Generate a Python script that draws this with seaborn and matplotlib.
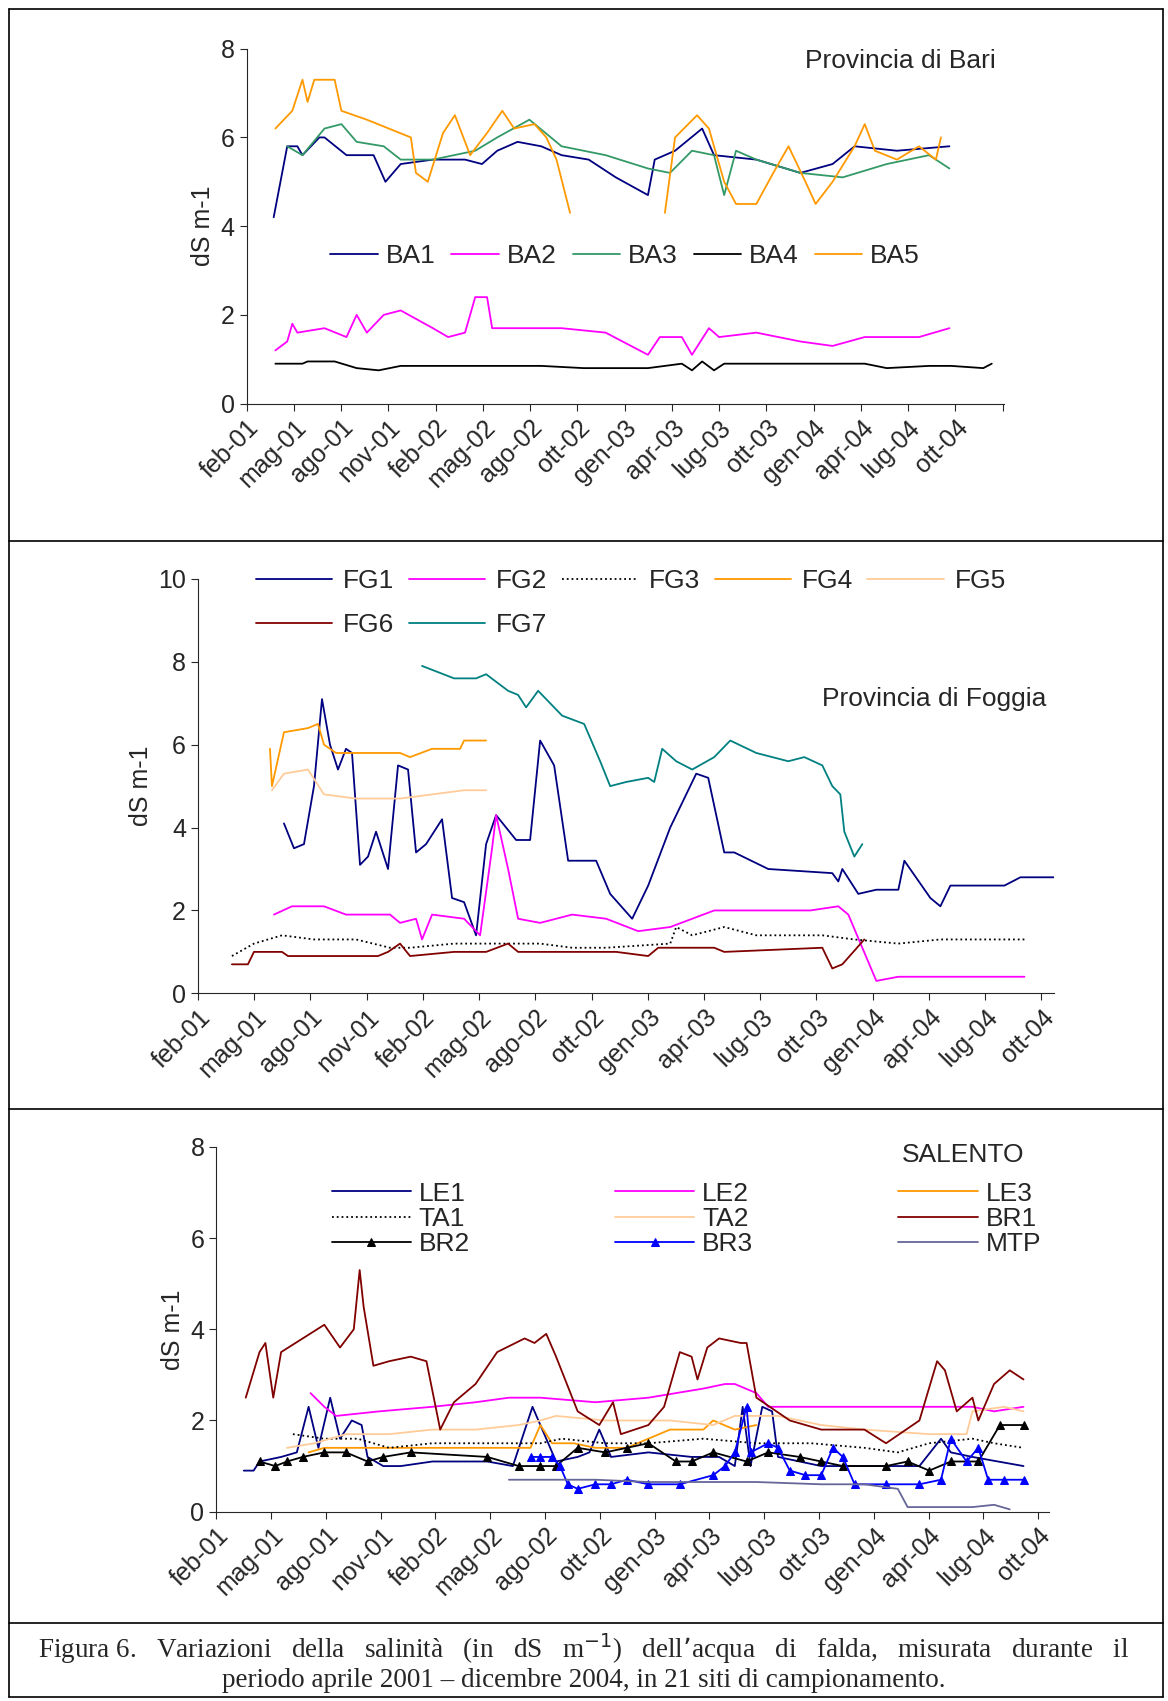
import matplotlib
matplotlib.use("Agg")
import matplotlib.pyplot as plt
import numpy as np
import pandas as pd
import seaborn as sns
from matplotlib.lines import Line2D

# x values are months counted from feb-01
tick_labels = ["feb-01", "mag-01", "ago-01", "nov-01", "feb-02", "mag-02", "ago-02", "ott-02",
               "gen-03", "apr-03", "lug-03", "ott-03", "gen-04", "apr-04", "lug-04", "ott-04"]

# ---- Provincia di Bari
ba1_x = [1.6, 2.4, 3.0, 3.3, 4.3, 4.6, 5.9, 7.5, 8.2, 9.1, 11.0, 12.9, 13.9, 14.8, 16.0, 17.4, 18.6, 20.2, 21.8, 23.7, 24.1, 25.3, 26.9, 27.6, 30.1, 32.7, 34.6, 35.9, 38.4, 41.5]
ba1_y = [4.2, 5.8, 5.8, 5.6, 6.0, 6.0, 5.6, 5.6, 5.0, 5.4, 5.5, 5.5, 5.4, 5.7, 5.9, 5.8, 5.6, 5.5, 5.1, 4.7, 5.5, 5.7, 6.2, 5.6, 5.5, 5.2, 5.4, 5.8, 5.7, 5.8]
ba2_x = [1.7, 2.4, 2.7, 3.0, 4.6, 5.9, 6.5, 7.1, 8.1, 9.1, 11.0, 11.9, 12.9, 13.5, 14.2, 14.5, 16.1, 18.6, 21.2, 23.7, 24.4, 25.7, 26.3, 27.3, 27.9, 30.1, 32.7, 34.6, 36.5, 39.7, 41.5]
ba2_y = [1.2, 1.4, 1.8, 1.6, 1.7, 1.5, 2.0, 1.6, 2.0, 2.1, 1.7, 1.5, 1.6, 2.4, 2.4, 1.7, 1.7, 1.7, 1.6, 1.1, 1.5, 1.5, 1.1, 1.7, 1.5, 1.6, 1.4, 1.3, 1.5, 1.5, 1.7]
ba3_x = [2.4, 3.3, 4.6, 5.6, 6.5, 8.1, 9.1, 11.0, 13.5, 14.8, 16.7, 18.6, 21.2, 23.7, 25.0, 26.3, 27.6, 28.2, 28.9, 30.1, 32.7, 35.2, 37.8, 40.3, 41.5]
ba3_y = [5.8, 5.6, 6.2, 6.3, 5.9, 5.8, 5.5, 5.5, 5.7, 6.0, 6.4, 5.8, 5.6, 5.3, 5.2, 5.7, 5.6, 4.7, 5.7, 5.5, 5.2, 5.1, 5.4, 5.6, 5.3]
ba4_x = [1.7, 3.3, 3.6, 5.2, 6.5, 7.8, 9.1, 14.2, 17.4, 19.9, 21.2, 23.7, 25.7, 26.3, 26.9, 27.6, 28.2, 30.1, 33.3, 36.5, 37.8, 40.3, 41.6, 43.5, 44.0]
ba4_y = [0.9, 0.9, 0.95, 0.95, 0.8, 0.75, 0.85, 0.85, 0.85, 0.8, 0.8, 0.8, 0.9, 0.75, 0.95, 0.75, 0.9, 0.9, 0.9, 0.9, 0.8, 0.85, 0.85, 0.8, 0.9]
ba5a_x = [1.7, 2.7, 3.3, 3.6, 4.0, 5.2, 5.6, 7.1, 9.7, 10.0, 10.7, 11.6, 12.3, 13.2, 14.2, 15.1, 15.8, 17.0, 17.7, 18.3, 19.1]
ba5a_y = [6.2, 6.6, 7.3, 6.8, 7.3, 7.3, 6.6, 6.4, 6.0, 5.2, 5.0, 6.1, 6.5, 5.6, 6.1, 6.6, 6.2, 6.3, 6.0, 5.5, 4.3]
ba5b_x = [24.7, 25.3, 26.6, 27.3, 28.2, 28.9, 30.1, 31.1, 32.0, 33.0, 33.6, 34.6, 35.9, 36.5, 37.1, 38.4, 39.7, 40.7, 41.0]
ba5b_y = [4.3, 6.0, 6.5, 6.2, 5.0, 4.5, 4.5, 5.2, 5.8, 5.0, 4.5, 5.0, 5.8, 6.3, 5.7, 5.5, 5.8, 5.5, 6.0]

# ---- Provincia di Foggia
fg1_x = [4.3, 4.8, 5.3, 5.8, 6.2, 6.6, 7.0, 7.4, 7.7, 8.1, 8.5, 8.9, 9.5, 10.0, 10.5, 10.9, 11.4, 12.2, 12.7, 13.3, 13.9, 14.4, 14.9, 15.4, 15.9, 16.6, 17.1, 17.8, 18.5, 19.9, 20.6, 21.7, 22.5, 23.6, 24.9, 25.5, 26.3, 26.8, 28.5, 31.7, 32.0, 32.2, 33.0, 33.9, 35.0, 35.3, 36.6, 37.1, 37.6, 40.3, 41.1, 42.8]
fg1_y = [4.1, 3.5, 3.6, 5.0, 7.1, 6.0, 5.4, 5.9, 5.8, 3.1, 3.3, 3.9, 3.0, 5.5, 5.4, 3.4, 3.6, 4.2, 2.3, 2.2, 1.4, 3.6, 4.3, 4.0, 3.7, 3.7, 6.1, 5.5, 3.2, 3.2, 2.4, 1.8, 2.6, 4.0, 5.3, 5.2, 3.4, 3.4, 3.0, 2.9, 2.7, 3.0, 2.4, 2.5, 2.5, 3.2, 2.3, 2.1, 2.6, 2.6, 2.8, 2.8]
fg2_x = [3.8, 4.7, 6.3, 7.4, 9.6, 10.1, 10.9, 11.2, 11.7, 13.3, 14.1, 14.7, 14.9, 15.5, 16.0, 17.1, 18.7, 20.4, 22.0, 23.6, 25.8, 27.9, 30.6, 32.0, 32.5, 33.9, 35.0, 41.3]
fg2_y = [1.9, 2.1, 2.1, 1.9, 1.9, 1.7, 1.8, 1.3, 1.9, 1.8, 1.4, 3.5, 4.3, 3.0, 1.8, 1.7, 1.9, 1.8, 1.5, 1.6, 2.0, 2.0, 2.0, 2.1, 1.9, 0.3, 0.4, 0.4]
fg3_x = [1.7, 2.8, 4.2, 5.8, 7.9, 9.6, 10.6, 12.8, 15.0, 17.1, 18.7, 20.4, 23.6, 23.9, 24.7, 26.3, 27.9, 31.2, 32.8, 35.0, 37.1, 41.3]
fg3_y = [0.9, 1.2, 1.4, 1.3, 1.3, 1.1, 1.1, 1.2, 1.2, 1.2, 1.1, 1.1, 1.2, 1.6, 1.4, 1.6, 1.4, 1.4, 1.3, 1.2, 1.3, 1.3]
fg4_x = [3.6, 3.7, 4.3, 5.5, 6.0, 6.3, 6.9, 10.1, 10.6, 11.7, 13.1, 13.3, 14.4]
fg4_y = [5.9, 5.0, 6.3, 6.4, 6.5, 6.0, 5.8, 5.8, 5.7, 5.9, 5.9, 6.1, 6.1]
fg5_x = [3.7, 4.3, 5.5, 6.3, 7.9, 10.1, 11.7, 13.3, 14.4]
fg5_y = [4.9, 5.3, 5.4, 4.8, 4.7, 4.7, 4.8, 4.9, 4.9]
fg6_x = [1.7, 2.5, 2.8, 4.2, 4.5, 9.0, 9.5, 10.1, 10.6, 12.8, 14.4, 15.5, 16.0, 20.9, 22.5, 23.0, 25.8, 26.3, 31.2, 31.7, 32.2, 33.3]
fg6_y = [0.7, 0.7, 1.0, 1.0, 0.9, 0.9, 1.0, 1.2, 0.9, 1.0, 1.0, 1.2, 1.0, 1.0, 0.9, 1.1, 1.1, 1.0, 1.1, 0.6, 0.7, 1.3]
fg7_x = [11.2, 12.8, 13.9, 14.4, 15.5, 16.0, 16.4, 17.0, 18.2, 19.3, 20.1, 20.6, 21.4, 22.5, 22.8, 23.2, 23.9, 24.7, 25.8, 26.6, 27.9, 29.5, 30.3, 31.2, 31.7, 32.1, 32.3, 32.8, 33.2]
fg7_y = [7.9, 7.6, 7.6, 7.7, 7.3, 7.2, 6.9, 7.3, 6.7, 6.5, 5.6, 5.0, 5.1, 5.2, 5.1, 5.9, 5.6, 5.4, 5.7, 6.1, 5.8, 5.6, 5.7, 5.5, 5.0, 4.8, 3.9, 3.3, 3.6]

# ---- Salento
le1_x = [1.4, 1.9, 2.2, 3.3, 4.1, 4.7, 5.2, 5.8, 6.3, 6.9, 7.4, 7.7, 8.5, 9.4, 11.0, 13.8, 15.1, 16.1, 16.8, 17.3, 18.4, 19.0, 19.5, 20.1, 22.0, 24.2, 25.6, 26.4, 26.8, 27.2, 27.8, 28.3, 28.6, 30.8, 32.5, 35.8, 36.9, 37.4, 38.5, 41.1]
le1_y = [0.9, 0.9, 1.1, 1.2, 1.3, 2.3, 1.4, 2.5, 1.6, 2.0, 1.9, 1.2, 1.0, 1.0, 1.1, 1.1, 1.0, 2.3, 1.6, 1.1, 1.2, 1.3, 1.8, 1.2, 1.3, 1.2, 1.2, 1.0, 2.3, 1.0, 2.3, 2.2, 1.2, 1.0, 1.0, 1.0, 1.6, 1.3, 1.2, 1.0]
le2_x = [4.8, 5.5, 6.1, 8.3, 11.0, 13.2, 14.9, 16.5, 19.3, 22.0, 24.8, 25.9, 26.4, 27.5, 28.1, 33.0, 38.5, 39.6, 41.1]
le2_y = [2.6, 2.3, 2.1, 2.2, 2.3, 2.4, 2.5, 2.5, 2.4, 2.5, 2.7, 2.8, 2.8, 2.6, 2.3, 2.3, 2.3, 2.2, 2.3]
le3_x = [4.7, 5.5, 8.3, 11.0, 13.8, 16.0, 16.5, 17.1, 18.2, 19.3, 20.9, 22.0, 23.1, 24.8, 25.3, 26.4, 27.5]
le3_y = [1.3, 1.4, 1.4, 1.4, 1.4, 1.4, 1.9, 1.5, 1.5, 1.4, 1.4, 1.6, 1.8, 1.8, 2.0, 1.8, 1.9]
ta1_x = [3.9, 5.5, 7.2, 8.8, 11.0, 13.8, 16.5, 17.6, 19.8, 22.0, 24.8, 27.5, 30.3, 33.0, 34.7, 36.3, 38.5, 39.6, 41.1]
ta1_y = [1.7, 1.6, 1.6, 1.4, 1.5, 1.5, 1.5, 1.6, 1.5, 1.5, 1.6, 1.5, 1.5, 1.4, 1.3, 1.5, 1.6, 1.5, 1.4]
ta2_x = [3.6, 5.0, 6.6, 8.8, 11.0, 13.2, 15.4, 16.5, 17.3, 19.8, 23.1, 25.3, 26.4, 28.6, 30.8, 33.0, 36.3, 38.2, 38.5, 40.1, 41.1]
ta2_y = [1.4, 1.5, 1.7, 1.7, 1.8, 1.8, 1.9, 2.0, 2.1, 2.0, 2.0, 1.9, 2.1, 2.1, 1.9, 1.8, 1.7, 1.7, 2.2, 2.3, 2.2]
br1_x = [1.5, 2.2, 2.5, 2.9, 3.3, 4.4, 5.5, 6.3, 7.0, 7.3, 7.5, 8.0, 8.8, 9.9, 10.7, 11.4, 12.1, 13.2, 14.3, 15.7, 16.2, 16.8, 17.3, 18.4, 19.5, 20.2, 20.6, 22.0, 22.8, 23.6, 24.2, 24.5, 25.0, 25.6, 26.7, 27.0, 27.5, 29.2, 30.8, 33.0, 34.1, 35.8, 36.7, 37.1, 37.7, 38.5, 38.8, 39.6, 40.4, 41.1]
br1_y = [2.5, 3.5, 3.7, 2.5, 3.5, 3.8, 4.1, 3.6, 4.0, 5.3, 4.5, 3.2, 3.3, 3.4, 3.3, 1.8, 2.4, 2.8, 3.5, 3.8, 3.7, 3.9, 3.4, 2.2, 1.9, 2.4, 1.7, 1.9, 2.3, 3.5, 3.4, 2.9, 3.6, 3.8, 3.7, 3.7, 2.5, 2.0, 1.8, 1.8, 1.5, 2.0, 3.3, 3.1, 2.2, 2.5, 2.0, 2.8, 3.1, 2.9]
br2_x = [2.2, 3.0, 3.6, 4.4, 5.5, 6.6, 7.7, 8.5, 9.9, 13.8, 15.4, 16.5, 17.3, 18.4, 19.8, 20.9, 22.0, 23.4, 24.2, 25.3, 27.0, 28.1, 29.7, 30.8, 31.9, 34.1, 35.2, 36.3, 37.4, 38.8, 39.9, 41.1]
br2_y = [1.1, 1.0, 1.1, 1.2, 1.3, 1.3, 1.1, 1.2, 1.3, 1.2, 1.0, 1.0, 1.0, 1.4, 1.3, 1.4, 1.5, 1.1, 1.1, 1.3, 1.1, 1.3, 1.2, 1.1, 1.0, 1.0, 1.1, 0.9, 1.1, 1.1, 1.9, 1.9]
br3_x = [16.0, 16.5, 17.1, 17.5, 17.9, 18.4, 19.3, 20.1, 20.9, 22.0, 23.6, 25.3, 25.9, 26.4, 27.0, 27.2, 28.1, 28.6, 29.2, 30.0, 30.8, 31.4, 31.9, 32.5, 34.1, 35.8, 36.9, 37.4, 38.2, 38.8, 39.3, 40.1, 41.1]
br3_y = [1.2, 1.2, 1.2, 1.0, 0.6, 0.5, 0.6, 0.6, 0.7, 0.6, 0.6, 0.8, 1.0, 1.3, 2.3, 1.3, 1.5, 1.4, 0.9, 0.8, 0.8, 1.4, 1.2, 0.6, 0.6, 0.6, 0.7, 1.6, 1.1, 1.4, 0.7, 0.7, 0.7]
mtp_x = [14.9, 19.3, 22.0, 27.5, 30.8, 33.0, 34.7, 35.2, 36.3, 38.5, 39.6, 40.4]
mtp_y = [0.7, 0.7, 0.65, 0.65, 0.6, 0.6, 0.5, 0.1, 0.1, 0.1, 0.15, 0.05]

sns.set_style("ticks")
plt.rcParams["font.family"] = ["Liberation Sans", "DejaVu Sans"]

fig = plt.figure(figsize=(11.68, 17.01), dpi=100)
W, H = 1080, 1572


def fax(x0, x1, y0, y1):
    return fig.add_axes([x0 / W, 1 - y1 / H, (x1 - x0) / W, (y1 - y0) / H])


def draw(ax, x, y, color, label=None, ls="-", marker=None):
    df = pd.DataFrame({"x": x, "y": y})
    sns.lineplot(data=df, x="x", y="y", ax=ax, color=color, lw=1.3, linestyle=ls,
                 marker=marker, markersize=6, markeredgecolor=color, sort=False,
                 estimator=None, label=label, legend=False)


def style(ax, xmax, ymax, ystep, step=2.8):
    ax.set_xlim(0, xmax)
    ax.set_ylim(0, ymax)
    ticks = np.arange(0, xmax + 0.01, step)
    ax.set_xticks(ticks)
    labs = tick_labels[:len(ticks)] + [""] * max(0, len(ticks) - len(tick_labels))
    ax.set_xticklabels(labs, rotation=45, ha="right", rotation_mode="anchor")
    ax.set_yticks(np.arange(0, ymax + 0.01, ystep))
    ax.tick_params(labelsize=18, direction="out", length=5)
    ax.set_xlabel("")
    ax.set_ylabel("dS m-1", fontsize=18)
    sns.despine(ax=ax)


# panel 1
ax1 = fax(228, 928, 45, 373)
for x, y, c, l in [(ba1_x, ba1_y, "#000080", "BA1"), (ba2_x, ba2_y, "#ff00ff", "BA2"),
                   (ba3_x, ba3_y, "#339966", "BA3"), (ba4_x, ba4_y, "black", "BA4"),
                   (ba5a_x, ba5a_y, "#ff9900", "BA5")]:
    draw(ax1, x, y, c, l)
draw(ax1, ba5b_x, ba5b_y, "#ff9900")
style(ax1, 44.7, 8, 2, step=2.79)
ax1.legend(loc="center", bbox_to_anchor=(0.5, 0.415), ncol=5, frameon=False, fontsize=19,
           handlelength=1.8, columnspacing=0.6, handletextpad=0.3)
ax1.text(0.99, 1.0, "Provincia di Bari", transform=ax1.transAxes, ha="right", va="top", fontsize=19)

# panel 2
ax2 = fax(183, 975, 535, 918)
fg = [(fg1_x, fg1_y, "#000080", "FG1", "-"), (fg2_x, fg2_y, "#ff00ff", "FG2", "-"),
      (fg3_x, fg3_y, "black", "FG3", ":"), (fg4_x, fg4_y, "#ff9900", "FG4", "-"),
      (fg5_x, fg5_y, "#ffcc99", "FG5", "-"), (fg6_x, fg6_y, "#800000", "FG6", "-"),
      (fg7_x, fg7_y, "#008080", "FG7", "-")]
for x, y, c, l, ls in fg:
    draw(ax2, x, y, c, l, ls)
style(ax2, 42.8, 10, 2, step=2.81)
h, l = ax2.get_legend_handles_labels()
order = [0, 5, 1, 6, 2, 3, 4]
ax2.legend([h[i] for i in order], [l[i] for i in order], loc="upper left",
           bbox_to_anchor=(0.04, 1.08), ncol=5, frameon=False, fontsize=19,
           handlelength=2.9, columnspacing=0.55, handletextpad=0.4, labelspacing=0.75)
ax2.text(0.99, 0.74, "Provincia di Foggia", transform=ax2.transAxes, ha="right", va="top", fontsize=19)

# panel 3
ax3 = fax(200, 970, 1060, 1397)
sal = [(le1_x, le1_y, "#000080", "LE1", "-", None), (le2_x, le2_y, "#ff00ff", "LE2", "-", None),
       (le3_x, le3_y, "#ff9900", "LE3", "-", None), (ta1_x, ta1_y, "black", "TA1", ":", None),
       (ta2_x, ta2_y, "#ffcc99", "TA2", "-", None), (br1_x, br1_y, "#800000", "BR1", "-", None),
       (br2_x, br2_y, "black", "BR2", "-", "^"), (br3_x, br3_y, "#0000ff", "BR3", "-", "^"),
       (mtp_x, mtp_y, "#666699", "MTP", "-", None)]
for x, y, c, l, ls, m in sal:
    draw(ax3, x, y, c, l, ls, m)
style(ax3, 42.4, 8, 2, step=2.79)
h, l = ax3.get_legend_handles_labels()
order = [0, 3, 6, 1, 4, 7, 2, 5, 8]
ax3.legend([h[i] for i in order], [l[i] for i in order], loc="upper left",
           bbox_to_anchor=(0.11, 0.97), ncol=3, frameon=False, fontsize=19,
           handlelength=3.0, columnspacing=5.5, handletextpad=0.3, labelspacing=0.05)
ax3.text(0.97, 1.01, "SALENTO", transform=ax3.transAxes, ha="right", va="top", fontsize=19)

# frame lines
for y in [8, 500, 1025, 1500, 1568]:
    fig.add_artist(Line2D([8 / W, 1075 / W], [1 - y / H, 1 - y / H], color="black", lw=1.2))
for x in [8, 1075]:
    fig.add_artist(Line2D([x / W, x / W], [1 - 8 / H, 1 - 1568 / H], color="black", lw=1.2))

fig.text(0.5, 1 - 1524 / H,
         "Figura 6.   Variazioni   della   salinità   (in   dS   m$^{-1}$)   dell\u2019acqua   di   falda,   misurata   durante   il",
         ha="center", va="center", fontsize=19.5, family="Liberation Serif")
fig.text(0.5, 1 - 1553 / H,
         "periodo aprile 2001 \u2013 dicembre 2004, in 21 siti di campionamento.",
         ha="center", va="center", fontsize=19.5, family="Liberation Serif")

fig.savefig("out.png", dpi=100)
